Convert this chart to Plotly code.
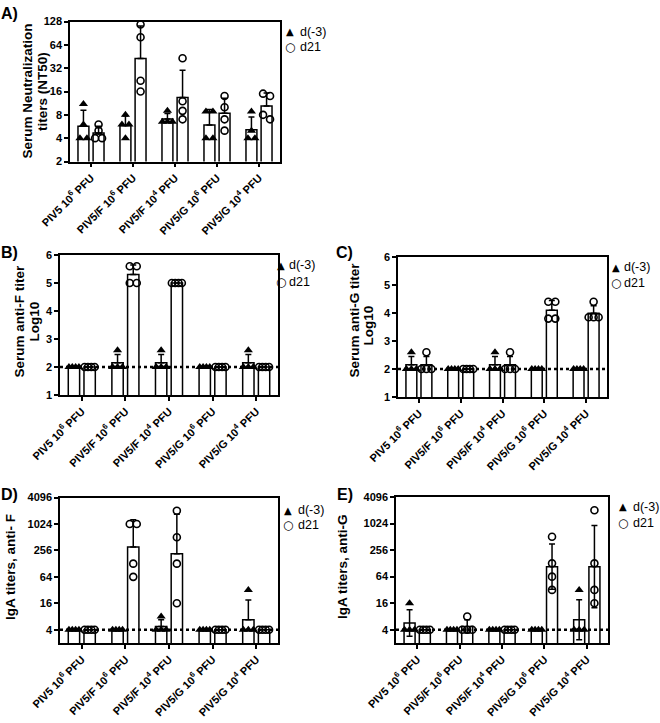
import numpy as np
import plotly.graph_objects as go

W, H = 660, 723
FONT = "Liberation Sans, Arial, sans-serif"

# ---------------- data ----------------
groups = ["PIV5 10<sup>6</sup> PFU", "PIV5/F 10<sup>6</sup> PFU", "PIV5/F 10<sup>4</sup> PFU",
          "PIV5/G 10<sup>6</sup> PFU", "PIV5/G 10<sup>4</sup> PFU"]
series_names = ["d(-3)", "d21"]

# A) serum neutralization titers (NT50)
nt50_pre = [[11, 6, 4, 4], [8, 6, 6, 4], [9, 6.5, 6.5, 6.5], [8.8, 8.8, 4, 4], [8.8, 5, 4, 4]]
nt50_d21 = [[6, 5, 4, 4], [117, 80, 22, 16], [43, 12, 9, 7], [14, 10, 7, 5], [15, 14, 8, 7]]
# B) serum anti-F titer (log10)
antiF_pre = [[2, 2, 2, 2], [2, 2, 2, 2.6], [2, 2, 2, 2.6], [2, 2, 2, 2], [2, 2, 2, 2.6]]
antiF_d21 = [[2, 2, 2, 2], [5.6, 5.6, 5, 5], [5, 5, 5, 5], [2, 2, 2, 2], [2, 2, 2, 2]]
# C) serum anti-G titer (log10)
antiG_pre = [[2, 2, 2, 2.6], [2, 2, 2, 2], [2, 2, 2, 2.6], [2, 2, 2, 2], [2, 2, 2, 2]]
antiG_d21 = [[2, 2, 2, 2.6], [2, 2, 2, 2], [2, 2, 2, 2.6], [4.4, 4.4, 3.8, 3.8], [4.4, 3.85, 3.85, 3.85]]
# D) IgA titers anti-F
igaF_pre = [[4, 4, 4, 4], [4, 4, 4, 4], [8, 4, 4, 4], [4, 4, 4, 4], [32, 4, 4, 4]]
igaF_d21 = [[4, 4, 4, 4], [1024, 1024, 128, 64], [2048, 512, 128, 16], [4, 4, 4, 4], [4, 4, 4, 4]]
# E) IgA titers anti-G
igaG_pre = [[16, 4, 4, 4], [4, 4, 4, 4], [4, 4, 4, 4], [4, 4, 4, 4], [32, 4, 4, 4]]
igaG_d21 = [[4, 4, 4, 4], [8, 4, 4, 4], [4, 4, 4, 4], [512, 128, 64, 32], [2048, 128, 32, 16]]

ticks_A = [2, 4, 8, 16, 32, 64, 128]
ticks_BC = [1, 2, 3, 4, 5, 6]
ticks_DE = [4, 16, 64, 256, 1024, 4096]
lod_BC = 2
lod_DE = 4

# ---------------- panel layout ----------------
panels = [
    dict(letter="A)", pre=nt50_pre, post=nt50_d21, log=True, box=(70, 280, 21.5, 161.5),
         yr=(2, 128), yticks=ticks_A, lod=None, both=False,
         title=[("Serum Neutralization", 26.5, 91), ("titers (NT50)", 42, 91)],
         lab=(9, 13), leg=(290, 32, 47, 298)),
    dict(letter="B)", pre=antiF_pre, post=antiF_d21, log=False, box=(60, 278, 255, 395),
         yr=(1, 6), yticks=ticks_BC, lod=lod_BC, both=False,
         title=[("Serum anti-F titer", 18.5, 321), ("Log10", 33.5, 322)],
         lab=(9, 252), leg=(281, 265, 282, 287)),
    dict(letter="C)", pre=antiG_pre, post=antiG_d21, log=False, box=(398, 607, 257, 397),
         yr=(1, 6), yticks=ticks_BC, lod=lod_BC, both=False,
         title=[("Serum anti-G titer", 353.5, 320), ("Log10", 368.5, 326)],
         lab=(344, 253), leg=(615.5, 267, 283, 622)),
    dict(letter="D)", pre=igaF_pre, post=igaF_d21, log=True, box=(60, 278, 497.5, 643),
         yr=(2, 4096), yticks=ticks_DE, lod=lod_DE, both=False,
         title=[("IgA titers, anti- F", 10, 567)],
         lab=(9, 494), leg=(288, 510, 525, 296)),
    dict(letter="E)", pre=igaG_pre, post=igaG_d21, log=True, box=(396, 608, 497, 643),
         yr=(2, 4096), yticks=ticks_DE, lod=lod_DE, both=True,
         title=[("IgA titers, anti-G", 342, 567)],
         lab=(345, 494), leg=(623, 507, 523, 631)),
]

BAR_OFF = [-0.18, 0.18]
BAR_W = 0.26
LINE_W = 1.5

fig = go.Figure()
annotations = []
shapes = []


def tf(v, log):
    return np.log2(v) if log else np.asarray(v, dtype=float)


def jitter(vals, log, px_per_t, px_per_x):
    """Spread overlapping points horizontally (GraphPad-style scatter)."""
    t = tf(np.array(vals, dtype=float), log) * px_per_t
    order = np.argsort(-t)
    offs = np.zeros(len(vals))
    clusters = []
    for idx in order:
        if clusters and abs(t[clusters[-1][0]] - t[idx]) < 5.5:
            clusters[-1].append(idx)
        else:
            clusters.append([idx])
    for c in clusters:
        n = len(c)
        if n > 1:
            step = min(7.0, 10.0 / (n - 1))
            for k, idx in enumerate(c):
                offs[idx] = (k - (n - 1) / 2) * step / px_per_x
    return offs


for pi, p in enumerate(panels):
    n = pi + 1
    xa = "x" if n == 1 else f"x{n}"
    ya = "y" if n == 1 else f"y{n}"
    x0, x1, yt, yb = p["box"]
    px_per_x = (x1 - x0) / 5.0
    lo, hi = p["yr"]
    if p["log"]:
        px_per_t = (yb - yt) / (np.log2(hi) - np.log2(lo))
    else:
        px_per_t = (yb - yt) / (hi - lo)

    for si, data in enumerate([p["pre"], p["post"]]):
        xs_bar, heights, up, down = [], [], [], []
        px_, py_ = [], []
        for gi, vals in enumerate(data):
            v = np.array(vals, dtype=float)
            if p["log"]:
                lv = np.log2(v)
                m, s = lv.mean(), lv.std(ddof=1)
                h = 2 ** m
                up.append(2 ** (m + s) - h)
                down.append(h - 2 ** (m - s))
            else:
                h, s = v.mean(), v.std(ddof=1)
                up.append(s)
                down.append(s)
            heights.append(h)
            xc = gi + BAR_OFF[si]
            xs_bar.append(xc)
            offs = jitter(vals, p["log"], px_per_t, px_per_x)
            px_.extend(list(xc + offs))
            py_.extend(list(v))
        fig.add_trace(go.Bar(
            x=xs_bar, y=heights, width=BAR_W, xaxis=xa, yaxis=ya,
            marker=dict(color="white", line=dict(color="black", width=LINE_W)),
            error_y=dict(type="data", symmetric=False, array=up,
                         arrayminus=down if p["both"] else [0] * len(up),
                         color="black", thickness=LINE_W, width=3),
            showlegend=False, hoverinfo="skip"))
        if si == 0:
            mk = dict(symbol="triangle-up", size=8, color="black", line=dict(width=0))
        else:
            mk = dict(symbol="circle-open", size=7, color="black", line=dict(width=1.6, color="black"))
        fig.add_trace(go.Scatter(
            x=px_, y=py_, mode="markers", marker=mk, xaxis=xa, yaxis=ya,
            name=series_names[si], showlegend=False, cliponaxis=False))

    # axes
    xkey = "xaxis" if n == 1 else f"xaxis{n}"
    ykey = "yaxis" if n == 1 else f"yaxis{n}"
    fig.update_layout(**{
        xkey: dict(domain=[x0 / W, x1 / W], range=[-0.5, 4.5], anchor=ya, automargin=False,
                   tickmode="array", tickvals=list(range(5)), ticktext=groups,
                   tickangle=-45, ticks="outside", ticklen=4, tickwidth=LINE_W, tickcolor="black",
                   showline=True, linecolor="black", linewidth=LINE_W, mirror=True,
                   showgrid=False, zeroline=False, fixedrange=True,
                   tickfont=dict(family=FONT, size=11, color="black", weight="bold")),
        ykey: dict(domain=[1 - yb / H, 1 - yt / H], anchor=xa, automargin=False,
                   type="log" if p["log"] else "linear",
                   range=[np.log10(lo), np.log10(hi)] if p["log"] else [lo, hi],
                   tickmode="array", tickvals=p["yticks"], ticktext=[str(t) for t in p["yticks"]],
                   ticks="outside", ticklen=4, tickwidth=LINE_W, tickcolor="black",
                   showline=True, linecolor="black", linewidth=LINE_W, mirror=True,
                   showgrid=False, zeroline=False, fixedrange=True,
                   tickfont=dict(family=FONT, size=11, color="black", weight="bold")),
    })

    if p["lod"] is not None:
        shapes.append(dict(type="line", xref=f"{xa} domain", yref=ya, x0=0, x1=1,
                           y0=p["lod"], y1=p["lod"], layer="above",
                           line=dict(color="black", width=2.5, dash="dot")))

    for txt, cx, cy in p["title"]:
        annotations.append(dict(text=txt, x=cx / W, y=1 - cy / H, xref="paper", yref="paper",
                                xanchor="center", yanchor="middle", textangle=-90, showarrow=False,
                                font=dict(family=FONT, size=13.5, color="black", weight="bold")))
    lx, ly = p["lab"]
    annotations.append(dict(text=p["letter"], x=lx / W, y=1 - ly / H, xref="paper", yref="paper",
                            xanchor="center", yanchor="middle", showarrow=False,
                            font=dict(family=FONT, size=16, color="black", weight="bold")))
    mx, y1_, y2_, tx = p["leg"]
    annotations.append(dict(text="▲", x=mx / W, y=1 - y1_ / H, xref="paper", yref="paper",
                            xanchor="center", yanchor="middle", showarrow=False,
                            font=dict(family="DejaVu Sans", size=10, color="black")))
    annotations.append(dict(text="○", x=mx / W, y=1 - y2_ / H, xref="paper", yref="paper",
                            xanchor="center", yanchor="middle", showarrow=False,
                            font=dict(family="DejaVu Sans", size=12, color="black", weight="bold")))
    annotations.append(dict(text=series_names[0], x=tx / W, y=1 - y1_ / H, xref="paper", yref="paper",
                            xanchor="left", yanchor="middle", showarrow=False,
                            font=dict(family=FONT, size=12.5, color="black")))
    annotations.append(dict(text=series_names[1], x=tx / W, y=1 - y2_ / H, xref="paper", yref="paper",
                            xanchor="left", yanchor="middle", showarrow=False,
                            font=dict(family=FONT, size=12.5, color="black")))

fig.update_layout(template="none", width=W, height=H, margin=dict(l=0, r=0, t=0, b=0, autoexpand=False),
                  paper_bgcolor="white", plot_bgcolor="rgba(0,0,0,0)",
                  barmode="overlay", showlegend=False,
                  annotations=annotations, shapes=shapes)

fig.write_html("out.html", config={"displayModeBar": False},
               post_script="document.body.style.margin='0';document.body.style.overflow='hidden';")
